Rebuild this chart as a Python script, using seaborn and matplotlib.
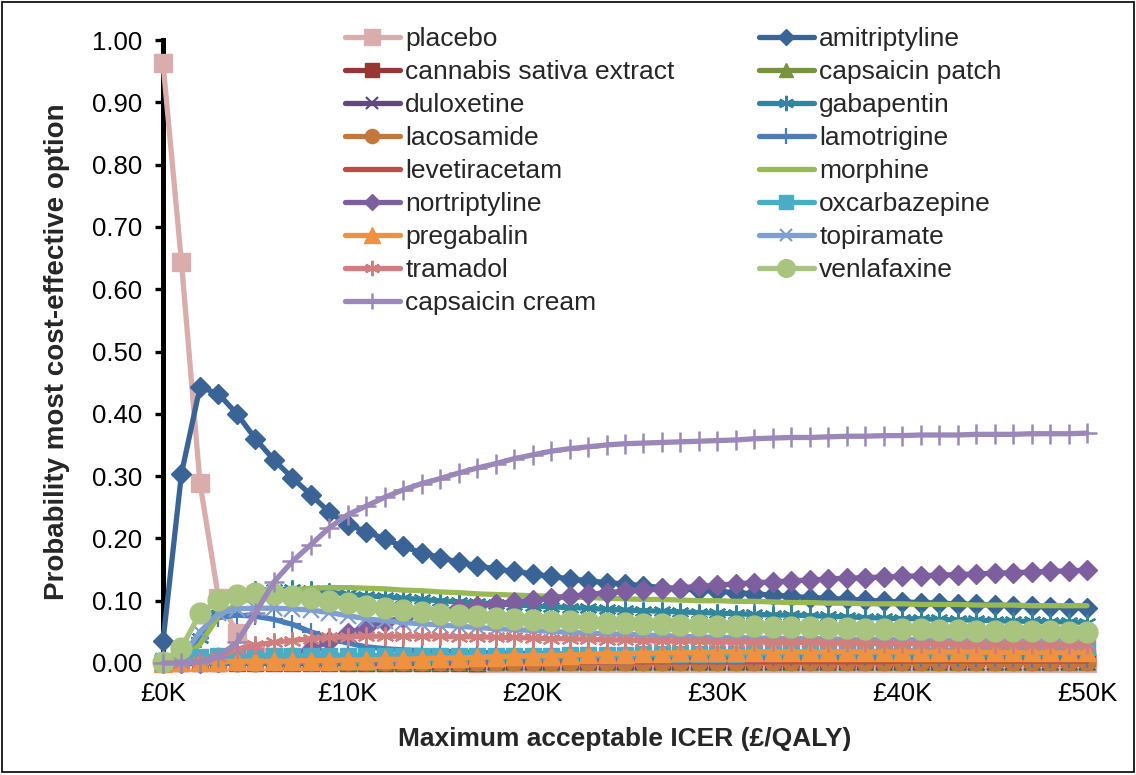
import matplotlib
matplotlib.use("Agg")
import matplotlib.pyplot as plt
from matplotlib.lines import Line2D
from matplotlib.patches import Rectangle
from matplotlib.ticker import FixedLocator, FuncFormatter
import seaborn as sns

# ---------------- data ----------------
icer_k = [0, 1, 2, 3, 4, 5, 6, 7, 8, 9,
          10, 11, 12, 13, 14, 15, 16, 17, 18, 19,
          20, 21, 22, 23, 24, 25, 26, 27, 28, 29,
          30, 31, 32, 33, 34, 35, 36, 37, 38, 39,
          40, 41, 42, 43, 44, 45, 46, 47, 48, 49, 50]

placebo = [0.963, 0.643, 0.289, 0.105, 0.048, 0.020, 0.010, 0.006, 0.004, 0.003,
           0.002, 0.002, 0.001, 0.001, 0.001, 0.001, 0.001, 0.000, 0.000, 0.000,
           0.000, 0.000, 0.000, 0.000, 0.000, 0.000, 0.000, 0.000, 0.000, 0.000,
           0.000, 0.000, 0.000, 0.000, 0.000, 0.000, 0.000, 0.000, 0.000, 0.000,
           0.000, 0.000, 0.000, 0.000, 0.000, 0.000, 0.000, 0.000, 0.000, 0.000, 0.000]
amitriptyline = [0.035, 0.304, 0.443, 0.432, 0.400, 0.360, 0.326, 0.297, 0.270, 0.242,
                 0.222, 0.211, 0.199, 0.187, 0.177, 0.169, 0.162, 0.156, 0.151, 0.147,
                 0.143, 0.139, 0.135, 0.132, 0.129, 0.127, 0.124, 0.121, 0.119, 0.117,
                 0.115, 0.113, 0.111, 0.109, 0.107, 0.105, 0.104, 0.102, 0.101, 0.099,
                 0.098, 0.097, 0.096, 0.095, 0.094, 0.093, 0.092, 0.091, 0.090, 0.089, 0.088]
cannabis = [0.000, 0.000, 0.000, 0.000, 0.000, 0.000, 0.000, 0.000, 0.000, 0.000,
            0.000, 0.000, 0.000, 0.000, 0.000, 0.000, 0.000, 0.000, 0.001, 0.001,
            0.002, 0.002, 0.003, 0.003, 0.003, 0.004, 0.004, 0.004, 0.005, 0.005,
            0.005, 0.005, 0.006, 0.006, 0.006, 0.006, 0.006, 0.007, 0.007, 0.007,
            0.007, 0.007, 0.007, 0.007, 0.008, 0.008, 0.008, 0.008, 0.008, 0.008, 0.008]
capsaicin_patch = [0.000, 0.001, 0.002, 0.002, 0.002, 0.001, 0.001, 0.001, 0.001, 0.001,
                   0.001, 0.001, 0.001, 0.001, 0.001, 0.001, 0.001, 0.001, 0.001, 0.001,
                   0.001, 0.001, 0.001, 0.001, 0.001, 0.001, 0.001, 0.001, 0.001, 0.001,
                   0.001, 0.001, 0.001, 0.001, 0.001, 0.001, 0.001, 0.001, 0.001, 0.001,
                   0.001, 0.001, 0.001, 0.001, 0.001, 0.001, 0.001, 0.001, 0.001, 0.001, 0.001]
duloxetine = [0.000, 0.000, 0.001, 0.001, 0.001, 0.001, 0.001, 0.001, 0.001, 0.001,
              0.001, 0.001, 0.001, 0.001, 0.001, 0.001, 0.001, 0.001, 0.001, 0.001,
              0.001, 0.001, 0.001, 0.001, 0.001, 0.002, 0.002, 0.002, 0.002, 0.002,
              0.002, 0.002, 0.002, 0.002, 0.002, 0.002, 0.002, 0.002, 0.002, 0.002,
              0.002, 0.002, 0.002, 0.002, 0.002, 0.002, 0.002, 0.002, 0.002, 0.002, 0.002]
gabapentin = [0.000, 0.005, 0.040, 0.090, 0.110, 0.117, 0.118, 0.118, 0.117, 0.114,
              0.110, 0.108, 0.106, 0.104, 0.102, 0.100, 0.098, 0.097, 0.095, 0.093,
              0.092, 0.090, 0.089, 0.088, 0.086, 0.085, 0.084, 0.083, 0.082, 0.081,
              0.080, 0.079, 0.078, 0.077, 0.077, 0.076, 0.075, 0.074, 0.073, 0.072,
              0.071, 0.071, 0.070, 0.069, 0.069, 0.068, 0.067, 0.067, 0.066, 0.066, 0.065]
lacosamide = [0.000, 0.000, 0.000, 0.000, 0.000, 0.000, 0.001, 0.001, 0.001, 0.001,
              0.001, 0.001, 0.001, 0.001, 0.001, 0.001, 0.001, 0.001, 0.001, 0.001,
              0.001, 0.001, 0.001, 0.001, 0.001, 0.002, 0.002, 0.002, 0.002, 0.002,
              0.002, 0.002, 0.002, 0.002, 0.002, 0.002, 0.002, 0.002, 0.002, 0.002,
              0.002, 0.002, 0.002, 0.002, 0.002, 0.002, 0.002, 0.002, 0.002, 0.002, 0.002]
lamotrigine = [0.000, 0.003, 0.040, 0.073, 0.077, 0.075, 0.070, 0.062, 0.050, 0.040,
               0.032, 0.026, 0.023, 0.021, 0.020, 0.019, 0.018, 0.017, 0.016, 0.016,
               0.015, 0.015, 0.014, 0.014, 0.013, 0.013, 0.012, 0.012, 0.012, 0.011,
               0.011, 0.011, 0.010, 0.010, 0.010, 0.010, 0.009, 0.009, 0.009, 0.009,
               0.009, 0.008, 0.008, 0.008, 0.008, 0.008, 0.008, 0.007, 0.007, 0.007, 0.007]
levetiracetam = [0.000, 0.000, 0.000, 0.000, 0.000, 0.000, 0.000, 0.000, 0.000, 0.000,
                 0.001, 0.001, 0.001, 0.001, 0.001, 0.001, 0.001, 0.001, 0.001, 0.001,
                 0.001, 0.001, 0.001, 0.001, 0.001, 0.002, 0.002, 0.002, 0.002, 0.002,
                 0.002, 0.002, 0.002, 0.002, 0.002, 0.002, 0.002, 0.002, 0.002, 0.002,
                 0.003, 0.003, 0.003, 0.003, 0.003, 0.003, 0.003, 0.003, 0.003, 0.003, 0.003]
morphine = [0.000, 0.003, 0.030, 0.075, 0.095, 0.107, 0.113, 0.117, 0.120, 0.121,
            0.121, 0.120, 0.119, 0.117, 0.116, 0.114, 0.113, 0.111, 0.110, 0.109,
            0.108, 0.107, 0.106, 0.105, 0.104, 0.103, 0.102, 0.102, 0.101, 0.100,
            0.100, 0.099, 0.099, 0.098, 0.097, 0.097, 0.096, 0.096, 0.095, 0.095,
            0.095, 0.094, 0.094, 0.094, 0.093, 0.093, 0.093, 0.092, 0.092, 0.092, 0.092]
nortriptyline = [0.000, 0.000, 0.000, 0.001, 0.003, 0.005, 0.008, 0.012, 0.022, 0.035,
                 0.048, 0.058, 0.066, 0.073, 0.079, 0.084, 0.088, 0.092, 0.095, 0.098,
                 0.101, 0.104, 0.107, 0.110, 0.113, 0.115, 0.117, 0.119, 0.121, 0.123,
                 0.125, 0.127, 0.129, 0.130, 0.132, 0.133, 0.135, 0.136, 0.137, 0.138,
                 0.139, 0.140, 0.141, 0.142, 0.143, 0.144, 0.145, 0.146, 0.147, 0.148, 0.149]
oxcarbazepine = [0.004, 0.008, 0.010, 0.011, 0.011, 0.012, 0.012, 0.012, 0.012, 0.012,
                 0.012, 0.012, 0.012, 0.012, 0.012, 0.012, 0.012, 0.012, 0.012, 0.012,
                 0.012, 0.012, 0.013, 0.013, 0.013, 0.013, 0.014, 0.014, 0.014, 0.015,
                 0.015, 0.015, 0.016, 0.016, 0.017, 0.017, 0.017, 0.018, 0.018, 0.019,
                 0.019, 0.020, 0.020, 0.021, 0.021, 0.022, 0.022, 0.023, 0.024, 0.025, 0.026]
pregabalin = [0.000, 0.001, 0.002, 0.002, 0.003, 0.003, 0.003, 0.003, 0.004, 0.004,
              0.005, 0.005, 0.006, 0.006, 0.007, 0.008, 0.008, 0.009, 0.010, 0.011,
              0.012, 0.012, 0.013, 0.014, 0.015, 0.015, 0.016, 0.016, 0.017, 0.017,
              0.018, 0.018, 0.018, 0.018, 0.018, 0.018, 0.018, 0.018, 0.018, 0.018,
              0.018, 0.018, 0.018, 0.018, 0.018, 0.017, 0.017, 0.017, 0.017, 0.017, 0.017]
topiramate = [0.000, 0.008, 0.050, 0.080, 0.087, 0.088, 0.088, 0.087, 0.085, 0.081,
              0.076, 0.071, 0.068, 0.065, 0.063, 0.061, 0.059, 0.057, 0.055, 0.054,
              0.052, 0.051, 0.049, 0.048, 0.047, 0.046, 0.045, 0.044, 0.043, 0.042,
              0.041, 0.041, 0.040, 0.040, 0.039, 0.039, 0.039, 0.038, 0.038, 0.038,
              0.038, 0.037, 0.037, 0.037, 0.037, 0.037, 0.036, 0.036, 0.036, 0.036, 0.036]
tramadol = [0.000, 0.000, 0.003, 0.010, 0.022, 0.029, 0.033, 0.036, 0.039, 0.041,
            0.042, 0.043, 0.043, 0.043, 0.043, 0.043, 0.042, 0.042, 0.041, 0.041,
            0.040, 0.039, 0.039, 0.038, 0.037, 0.037, 0.036, 0.036, 0.035, 0.035,
            0.034, 0.034, 0.034, 0.033, 0.033, 0.033, 0.032, 0.032, 0.032, 0.031,
            0.031, 0.031, 0.031, 0.030, 0.030, 0.030, 0.030, 0.029, 0.029, 0.029, 0.029]
venlafaxine = [0.002, 0.024, 0.080, 0.101, 0.109, 0.112, 0.110, 0.107, 0.104, 0.100,
               0.096, 0.092, 0.088, 0.085, 0.082, 0.079, 0.077, 0.075, 0.073, 0.071,
               0.069, 0.068, 0.067, 0.066, 0.065, 0.064, 0.063, 0.062, 0.061, 0.061,
               0.060, 0.059, 0.059, 0.058, 0.057, 0.057, 0.056, 0.056, 0.055, 0.055,
               0.054, 0.054, 0.053, 0.053, 0.052, 0.052, 0.052, 0.051, 0.051, 0.050, 0.050]
capsaicin_cream = [0.000, 0.000, 0.002, 0.010, 0.033, 0.080, 0.130, 0.163, 0.190, 0.217,
                   0.238, 0.252, 0.266, 0.278, 0.288, 0.296, 0.305, 0.313, 0.320, 0.328,
                   0.334, 0.340, 0.344, 0.347, 0.350, 0.352, 0.353, 0.354, 0.355, 0.356,
                   0.357, 0.358, 0.360, 0.361, 0.362, 0.362, 0.363, 0.364, 0.364, 0.365,
                   0.365, 0.366, 0.366, 0.366, 0.367, 0.367, 0.367, 0.368, 0.368, 0.368, 0.369]

series_names = ["placebo", "amitriptyline", "cannabis sativa extract", "capsaicin patch",
                "duloxetine", "gabapentin", "lacosamide", "lamotrigine", "levetiracetam",
                "morphine", "nortriptyline", "oxcarbazepine", "pregabalin", "topiramate",
                "tramadol", "venlafaxine", "capsaicin cream"]
series_values = [placebo, amitriptyline, cannabis, capsaicin_patch, duloxetine, gabapentin,
                 lacosamide, lamotrigine, levetiracetam, morphine, nortriptyline,
                 oxcarbazepine, pregabalin, topiramate, tramadol, venlafaxine, capsaicin_cream]

x_tick_values = [0, 10, 20, 30, 40, 50]
x_tick_labels = ["£0K", "£10K", "£20K", "£30K", "£40K", "£50K"]
y_tick_values = [0.0, 0.1, 0.2, 0.3, 0.4, 0.5, 0.6, 0.7, 0.8, 0.9, 1.0]

# ---------------- styles ----------------
ASTER = (6, 2, 0)
styles = {
    "placebo":                 dict(color="#D9ADAC", marker="s", ms=13),
    "amitriptyline":           dict(color="#3A6496", marker="D", ms=10),
    "cannabis sativa extract": dict(color="#953735", marker="s", ms=12),
    "capsaicin patch":         dict(color="#77933C", marker="^", ms=12),
    "duloxetine":              dict(color="#604A7B", marker="x", ms=11, mew=1.6),
    "gabapentin":              dict(color="#31859C", marker=ASTER, ms=13, mew=1.6),
    "lacosamide":              dict(color="#C4773B", marker="o", ms=12),
    "lamotrigine":             dict(color="#4A7EBB", marker="+", ms=13, mew=1.6),
    "levetiracetam":           dict(color="#BE4B48", marker=None, ms=0),
    "morphine":                dict(color="#98B954", marker=None, ms=0),
    "nortriptyline":           dict(color="#7D5FA0", marker="D", ms=10),
    "oxcarbazepine":           dict(color="#4BACC6", marker="s", ms=12),
    "pregabalin":              dict(color="#F0913F", marker="^", ms=13),
    "topiramate":              dict(color="#7F9FD0", marker="x", ms=11, mew=1.6),
    "tramadol":                dict(color="#D07F7E", marker=ASTER, ms=13, mew=1.6),
    "venlafaxine":             dict(color="#A9C47F", marker="o", ms=15),
    "capsaicin cream":         dict(color="#9B87B8", marker="+", ms=14, mew=1.8),
}

sns.set_style("white")
plt.rcParams["font.family"] = ["Liberation Sans", "DejaVu Sans"]

fig = plt.figure(figsize=(11.36, 7.75), dpi=100)
ax = fig.add_axes([163 / 1136, 1 - 663 / 775, (1087 - 163) / 1136, (663 - 40) / 775])

LW = 3.8
handles = []
for name, vals in zip(series_names, series_values):
    st = styles[name]
    kw = dict(color=st["color"], linewidth=LW, clip_on=False)
    if st["marker"] is not None:
        kw.update(marker=st["marker"], markersize=st["ms"],
                  markeredgecolor=st["color"], markerfacecolor=st["color"],
                  markeredgewidth=st.get("mew", 1.0))
    sns.lineplot(x=icer_k, y=vals, ax=ax, legend=False, **kw)
    hk = dict(color=st["color"], linewidth=LW)
    if st["marker"] is not None:
        hk.update(marker=st["marker"], markersize=st["ms"] * 0.85,
                  markeredgecolor=st["color"], markerfacecolor=st["color"],
                  markeredgewidth=st.get("mew", 1.0))
    handles.append(Line2D([0], [0], **hk))

ax.set_xlim(0, 50)
ax.set_ylim(0, 1.0)
ax.xaxis.set_major_locator(FixedLocator(x_tick_values))
ax.set_xticklabels(x_tick_labels)
ax.yaxis.set_major_locator(FixedLocator(y_tick_values))
ax.yaxis.set_major_formatter(FuncFormatter(lambda v, p: f"{v:.2f}"))

for s in ["top", "right"]:
    ax.spines[s].set_visible(False)
ax.spines["left"].set_linewidth(3.6)
ax.spines["left"].set_color("black")
ax.spines["left"].set_zorder(0.5)
ax.spines["bottom"].set_linewidth(1.0)
ax.spines["bottom"].set_color("#404040")
ax.spines["bottom"].set_zorder(0.5)

ax.tick_params(axis="y", direction="out", length=6, width=2.4, color="black",
               labelsize=18.5, pad=9, left=True)
ax.tick_params(axis="x", length=0, labelsize=18.5, pad=14)
for t in ax.get_xticklabels() + ax.get_yticklabels():
    t.set_color("black")

ax.set_xlabel("Maximum acceptable ICER (£/QALY)", fontsize=19, fontweight="bold",
              labelpad=15)
ax.set_ylabel("Probability most cost-effective option", fontsize=20, fontweight="bold",
              labelpad=16)

# legend, two columns, Excel row-major order
order = list(range(0, 17, 2)) + list(range(1, 17, 2))
leg = fig.legend([handles[i] for i in order], [series_names[i] for i in order],
                 loc="upper left", bbox_to_anchor=(345 / 1136, 1 - 27 / 775),
                 ncol=2, frameon=False, fontsize=19, handlelength=2.08,
                 handletextpad=0.2, columnspacing=3.2, labelspacing=0.34,
                 borderpad=0, borderaxespad=0)

# chart-area border
fig.patches.append(Rectangle((0.0015, 0.004), 0.9965, 0.993, transform=fig.transFigure,
                             fill=False, edgecolor="black", linewidth=1.2))

fig.savefig("out.png", dpi=100)
